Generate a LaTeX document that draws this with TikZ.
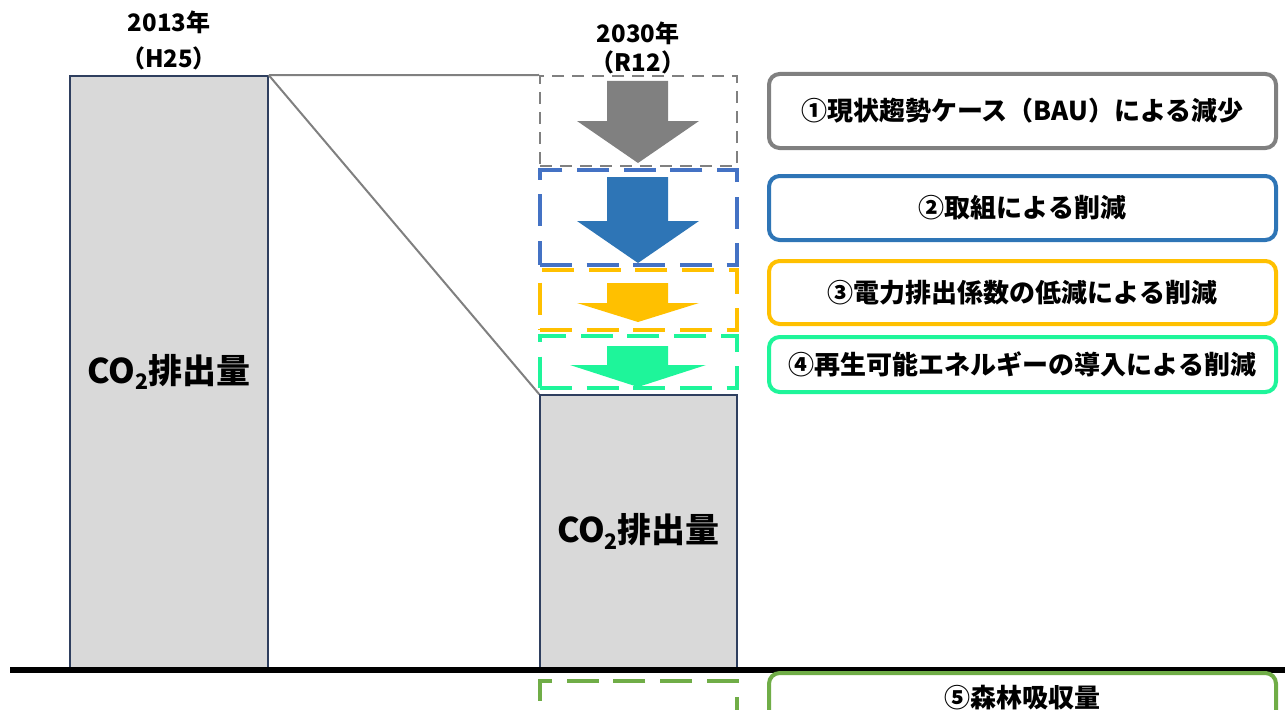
\documentclass[tikz,border=0pt]{standalone}
\usepackage{fontspec}
\setmainfont{Noto Sans CJK JP}
\usepackage{xcolor}
\usetikzlibrary{positioning}

\newlength\pxl
\setlength\pxl{0.75pt}

\definecolor{barfill}{HTML}{D9D9D9}
\definecolor{barline}{HTML}{2F3F5F}
\definecolor{bau}{HTML}{808080}
\definecolor{torikumi}{HTML}{2E75B6}
\definecolor{torikumidash}{HTML}{4472C4}
\definecolor{denryoku}{HTML}{FFC000}
\definecolor{saiene}{HTML}{1EF59A}
\definecolor{shinrin}{HTML}{70AD47}

\newcommand{\cotwo}{CO\raisebox{-0.35ex}{\fontsize{16pt}{16pt}\selectfont 2}}
% block arrow: colour, top, neck, tip, half width of head
\newcommand{\blockarrow}[5]{%
  \fill[#1] (607,#2) -- (668,#2) -- (668,#3) -- (638+#5,#3) -- (638,#4)
    -- (638-#5,#3) -- (607,#3) -- cycle;}

\tikzset{
  bar/.style={draw=barline, line width=1.2pt, fill=barfill, inner sep=0pt,
    font=\bfseries\fontsize{25.5pt}{28pt}\selectfont},
  cut/.style={minimum width=197\pxl, inner sep=0pt, dash pattern=on 24pt off 11pt,
    line width=3pt},
  label/.style={rounded corners=8pt, line width=3pt, fill=white,
    minimum width=507\pxl, inner sep=0pt,
    font=\bfseries\fontsize{19.5pt}{22pt}\selectfont},
  year/.style={font=\bfseries\fontsize{18pt}{22pt}\selectfont, inner sep=0pt},
  guide/.style={draw=bau, line width=1.5pt}
}

\begin{document}
\begin{tikzpicture}[x=0.75pt, y=-0.75pt]
  \useasboundingbox (0,0) rectangle (1285,710);

  % bars
  \node[bar, minimum width=198\pxl, minimum height=592\pxl] (bar13) at (169,372) {\cotwo 排出量};
  \node[bar, minimum width=197\pxl, minimum height=273\pxl] (bar30) at (638.5,531.5) {\cotwo 排出量};
  \node[year] (y13) at (169,22) {2013年};
  \node[year] (h25) at (169,58) {（H25）};
  \node[year] (y30) at (638,33) {2030年};
  \node[year] (r12) at (638,62) {（R12）};

  % reduction blocks
  \node[cut, draw=bau, line width=1.5pt, dash pattern=on 9pt off 6pt,
    minimum height=90\pxl] (cutbau) at (638.5,121) {};
  \node[cut, draw=torikumidash, minimum height=95\pxl] (cuttori) at (638.5,217.5) {};
  \node[cut, draw=denryoku, minimum height=60\pxl] (cutden) at (638.5,300) {};
  \node[cut, draw=saiene, minimum height=52\pxl] (cutsai) at (638.5,362) {};
  \node[cut, draw=shinrin, minimum height=38\pxl] (cutshin) at (638.5,700) {};

  \blockarrow{bau}{81}{121}{163}{61}
  \blockarrow{torikumi}{177}{221}{263}{61}
  \blockarrow{denryoku}{283}{303}{322}{61}
  \blockarrow{saiene}{346}{365}{387}{68}

  % guide lines
  \draw[guide] (bar13.north east) -- (cutbau.north west);
  \draw[guide] (bar13.north east) -- (bar30.north west);

  % ground line
  \coordinate (g0) at (10,670);
  \coordinate (g1) at (1285,670);
  \draw[line width=4.5pt] (g0) -- (g1);

  % legend
  \node[label, draw=bau, minimum height=74\pxl] (lbau) at (1022.5,111) {①現状趨勢ケース（BAU）による減少};
  \node[label, draw=torikumi, minimum height=64\pxl] (ltori) at (1022.5,208) {②取組による削減};
  \node[label, draw=denryoku, minimum height=63\pxl] (lden) at (1022.5,292.5) {③電力排出係数の低減による削減};
  \node[label, draw=saiene, minimum height=55\pxl] (lsai) at (1022.5,364.5) {④再生可能エネルギーの導入による削減};
  \node[label, draw=shinrin, minimum height=50\pxl] (lshin) at (1022.5,698) {⑤森林吸収量};
\end{tikzpicture}
\end{document}
